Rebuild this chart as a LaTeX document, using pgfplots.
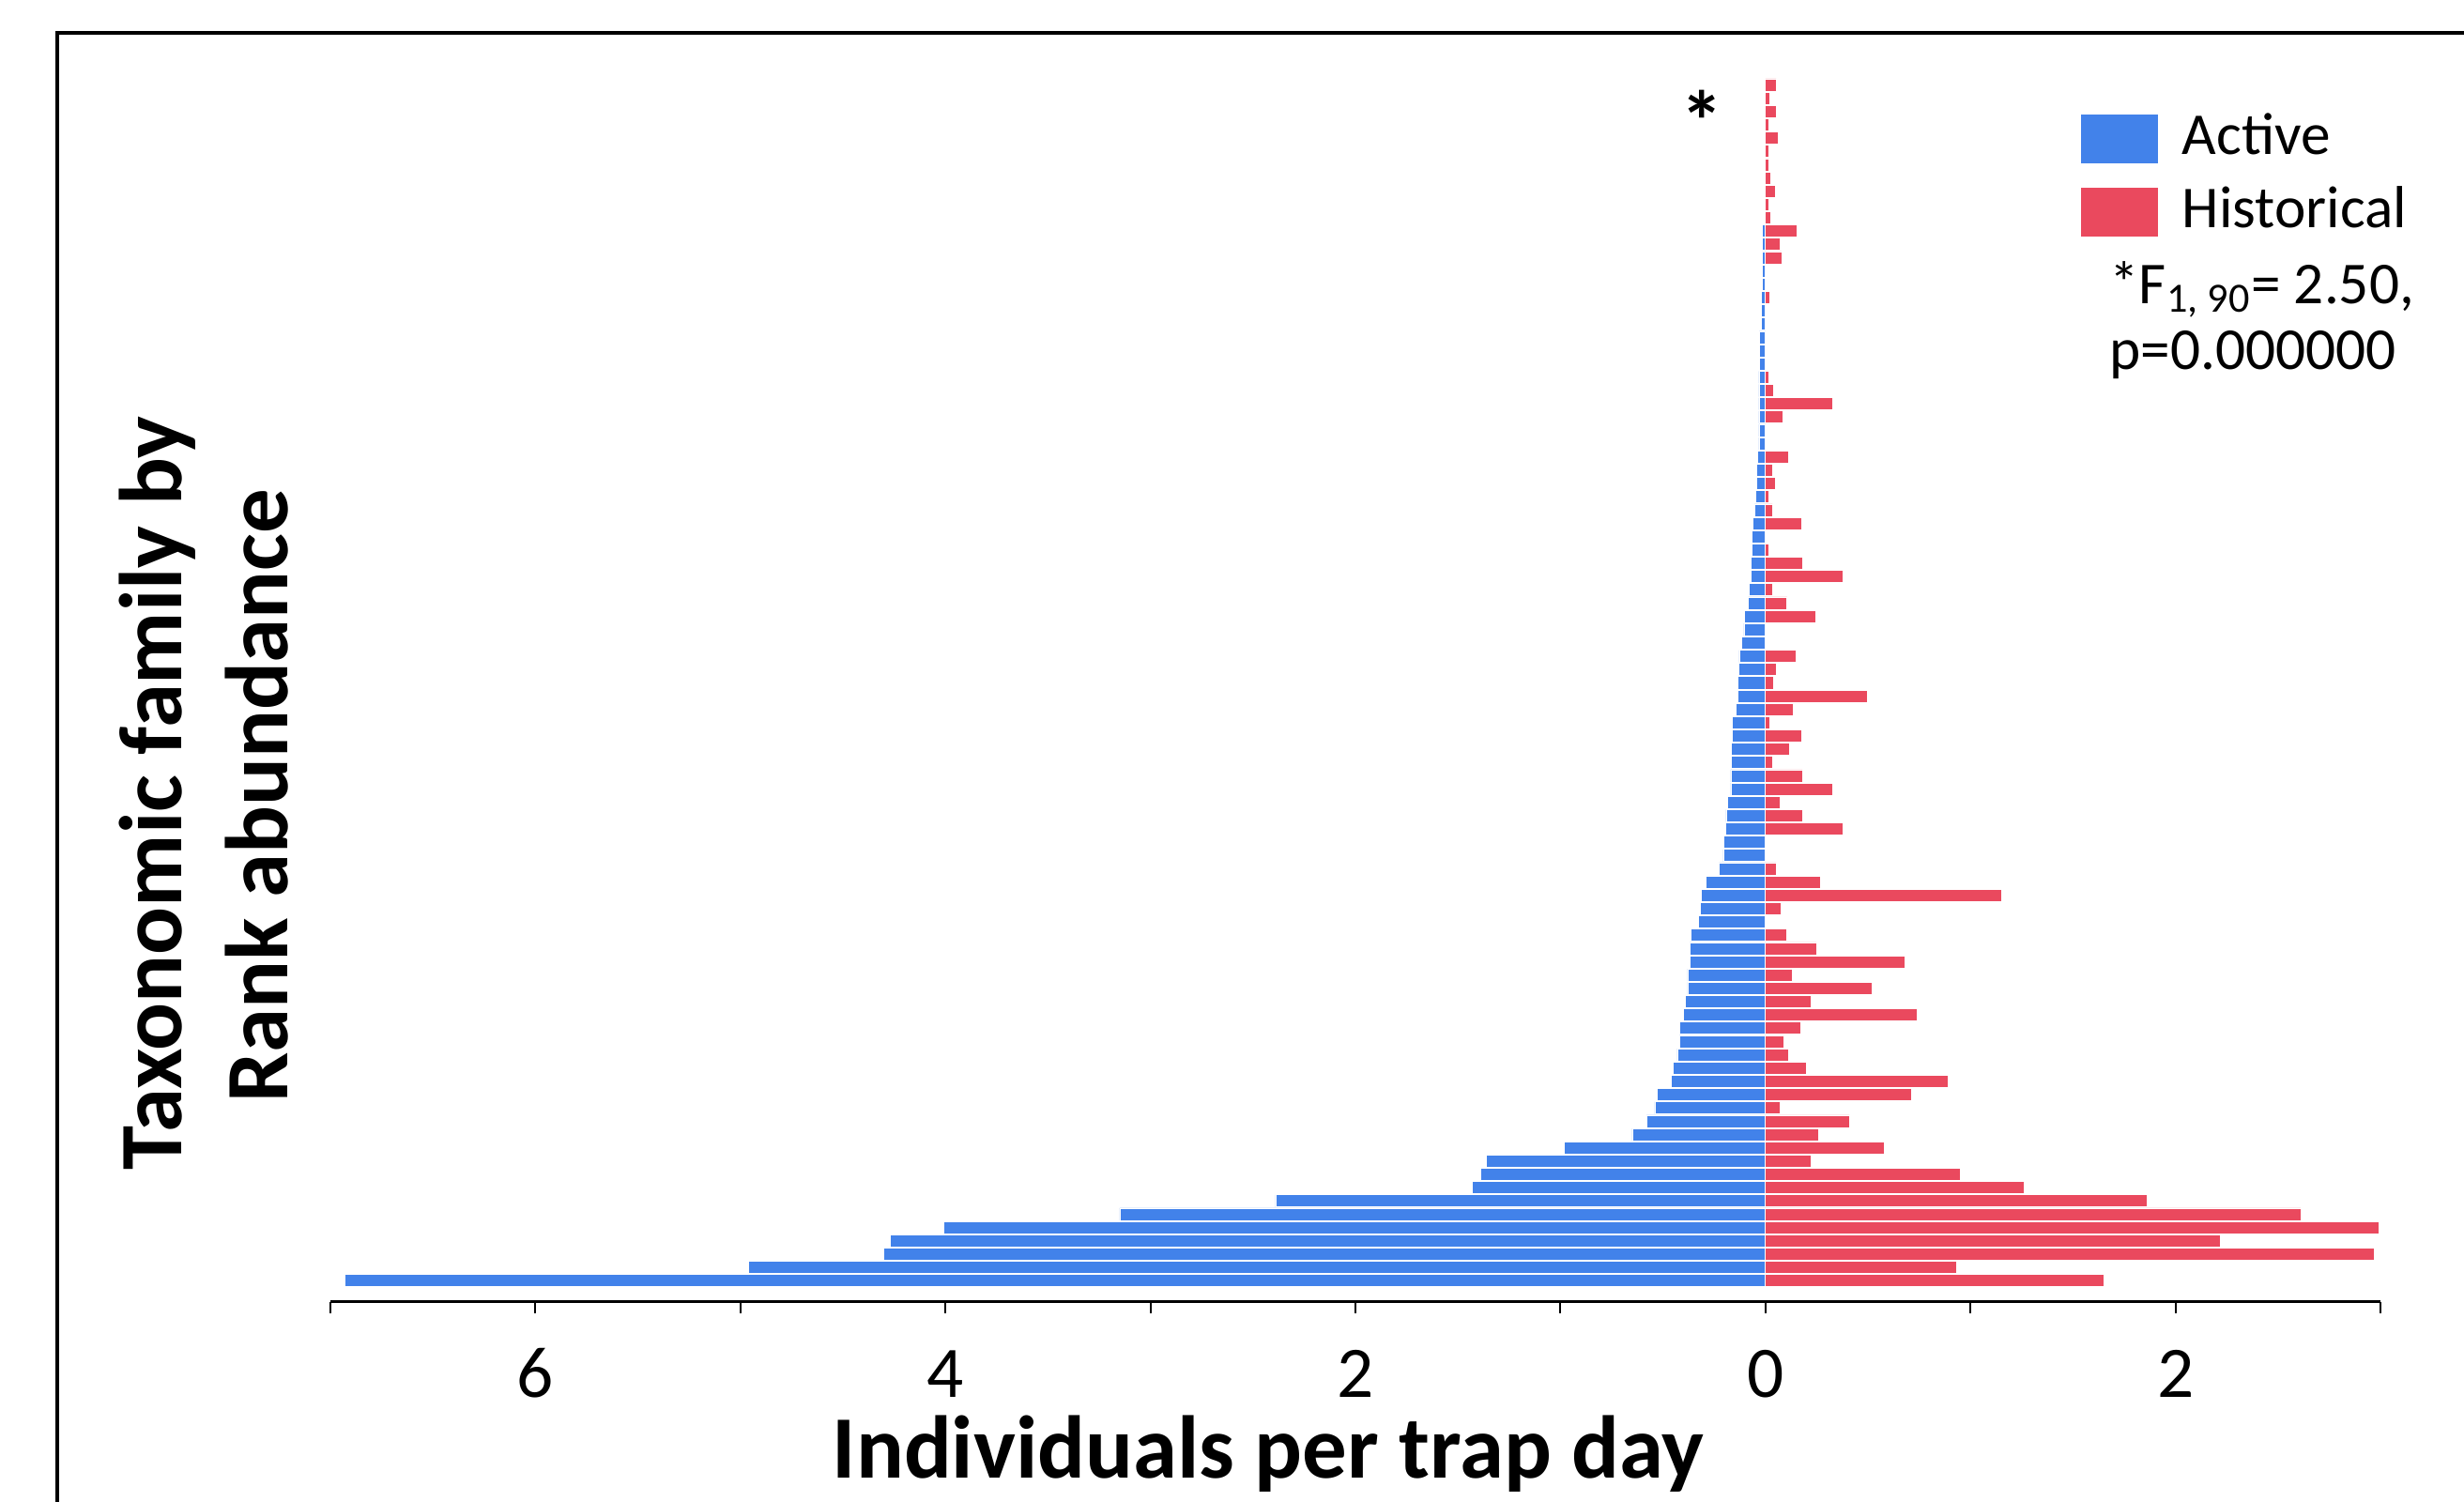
\documentclass[border=0pt]{standalone}
\usepackage{pgfplots}
\pgfplotsset{compat=1.18}
\usepackage{fontspec}
\setmainfont{Carlito}
\definecolor{actblue}{RGB}{66,130,234}
\definecolor{histred}{RGB}{234,73,94}

\begin{document}
\begin{tikzpicture}
% outer frame, cut off by the page edge
\draw[line width=1.4pt] (0.61,-1) -- (0.61,15.65) -- (27,15.65);
\begin{axis}[
 at={(3.52cm,2.133cm)}, anchor=south west,
 scale only axis, width=21.84cm, height=13.1035cm,
 xmin=-7, xmax=3, ymin=-1, ymax=91.59, y dir=reverse,
 axis x line*=bottom, axis y line=none,
 xtick={-7,...,3}, xticklabels={,6,,4,,2,,0,,2,},
 ytick=\empty,
 tick align=outside, major tick length=0.12cm,
 x axis line style={line width=0.9pt},
 xtick style={line width=0.6pt, black},
 xticklabel style={font=\fontsize{22}{26}\selectfont, anchor=base, yshift=-0.9cm},
 /pgf/number format/assume math mode=true,
 xbar, bar shift=0pt, bar width=0.92,
 legend image code/.code={\fill[#1] (0cm,-0.1cm) rectangle (0.834cm,0.427cm);},
 legend style={at={(0.853,0.967)}, anchor=north west, draw=none, fill=none,
   inner sep=0pt, font=\fontsize{18}{21}\selectfont, row sep=0.24cm,
   column sep=0.25cm, cells={anchor=base west}, nodes={inner sep=0pt}},
 clip=false,
]
% active traps (plotted to the left)
\addplot[fill=actblue, draw=white, line width=0.2pt] coordinates {
 (-0.015,11) (-0.015,12) (-0.015,13) (-0.015,14) (-0.015,15)
 (-0.021,16) (-0.021,17) (-0.021,18) (-0.031,19) (-0.031,20)
 (-0.031,21) (-0.032,22) (-0.032,23) (-0.032,24) (-0.032,25)
 (-0.032,26) (-0.032,27) (-0.038,28) (-0.044,29) (-0.044,30)
 (-0.049,31) (-0.053,32) (-0.061,33) (-0.067,34) (-0.067,35)
 (-0.069,36) (-0.070,37) (-0.078,38) (-0.084,39) (-0.101,40)
 (-0.105,41) (-0.115,42) (-0.128,43) (-0.131,44) (-0.134,45)
 (-0.136,46) (-0.144,47) (-0.162,48) (-0.163,49) (-0.165,50)
 (-0.166,51) (-0.169,52) (-0.169,53) (-0.185,54) (-0.192,55)
 (-0.195,56) (-0.205,57) (-0.206,58) (-0.227,59) (-0.292,60)
 (-0.313,61) (-0.319,62) (-0.328,63) (-0.363,64) (-0.368,65)
 (-0.37,66) (-0.38,67) (-0.38,68) (-0.39,69) (-0.40,70)
 (-0.42,71) (-0.42,72) (-0.43,73) (-0.45,74) (-0.46,75)
 (-0.53,76) (-0.54,77) (-0.58,78) (-0.65,79) (-0.98,80)
 (-1.36,81) (-1.39,82) (-1.43,83) (-2.39,84) (-3.15,85)
 (-4.01,86) (-4.27,87) (-4.30,88) (-4.96,89) (-6.93,90)};
% historical records (plotted to the right)
\addplot[fill=histred, draw=white, line width=0.2pt] coordinates {
 (0.052,0) (0.021,1) (0.052,2) (0.017,3) (0.060,4) (0.017,5)
 (0.017,6) (0.023,7) (0.046,8) (0.017,9) (0.023,10) (0.154,11)
 (0.069,12) (0.078,13) (0.021,16) (0.017,22) (0.038,23) (0.328,24)
 (0.084,25) (0.111,28) (0.035,29) (0.050,30) (0.017,31) (0.034,32)
 (0.176,33) (0.017,35) (0.179,36) (0.377,37) (0.035,38) (0.105,39)
 (0.243,40) (0.148,43) (0.052,44) (0.040,45) (0.496,46) (0.133,47)
 (0.020,48) (0.174,49) (0.115,50) (0.034,51) (0.180,52) (0.328,53)
 (0.072,54) (0.180,55) (0.379,56) (0.052,59) (0.270,60) (1.151,61)
 (0.075,62) (0.101,64) (0.249,65) (0.68,66) (0.13,67) (0.52,68)
 (0.22,69) (0.74,70) (0.17,71) (0.09,72) (0.11,73) (0.20,74)
 (0.89,75) (0.71,76) (0.07,77) (0.41,78) (0.26,79) (0.58,80)
 (0.22,81) (0.95,82) (1.26,83) (1.86,84) (2.61,85) (2.99,86)
 (2.22,87) (2.97,88) (0.93,89) (1.65,90)};
\legend{Active, Historical}
\node[font=\bfseries\fontsize{26}{30}\selectfont, anchor=base, inner sep=0pt]
 at (axis cs:-0.31,5.0) {*};
\end{axis}
\node[anchor=base, inner sep=0pt, font=\bfseries\fontsize{27}{32}\selectfont]
 at (13.51,0.25) {Individuals per trap day};
\node[rotate=90, anchor=base, inner sep=0pt, font=\bfseries\fontsize{27}{32}\selectfont]
 at (1.93,7.55) {Taxonomic family by};
\node[rotate=90, anchor=base, inner sep=0pt, font=\bfseries\fontsize{27}{32}\selectfont]
 at (3.06,7.52) {Rank abundance};
\node[anchor=base west, inner sep=0pt, font=\fontsize{18}{21}\selectfont]
 at (22.467,12.767) {*F\textsubscript{1, 90}= 2.50,};
\node[anchor=base west, inner sep=0pt, font=\fontsize{18}{21}\selectfont]
 at (22.467,12.06) {p=0.000000};
\pgfresetboundingbox
\useasboundingbox (0,0) rectangle (26.25,16);
\end{tikzpicture}
\end{document}
